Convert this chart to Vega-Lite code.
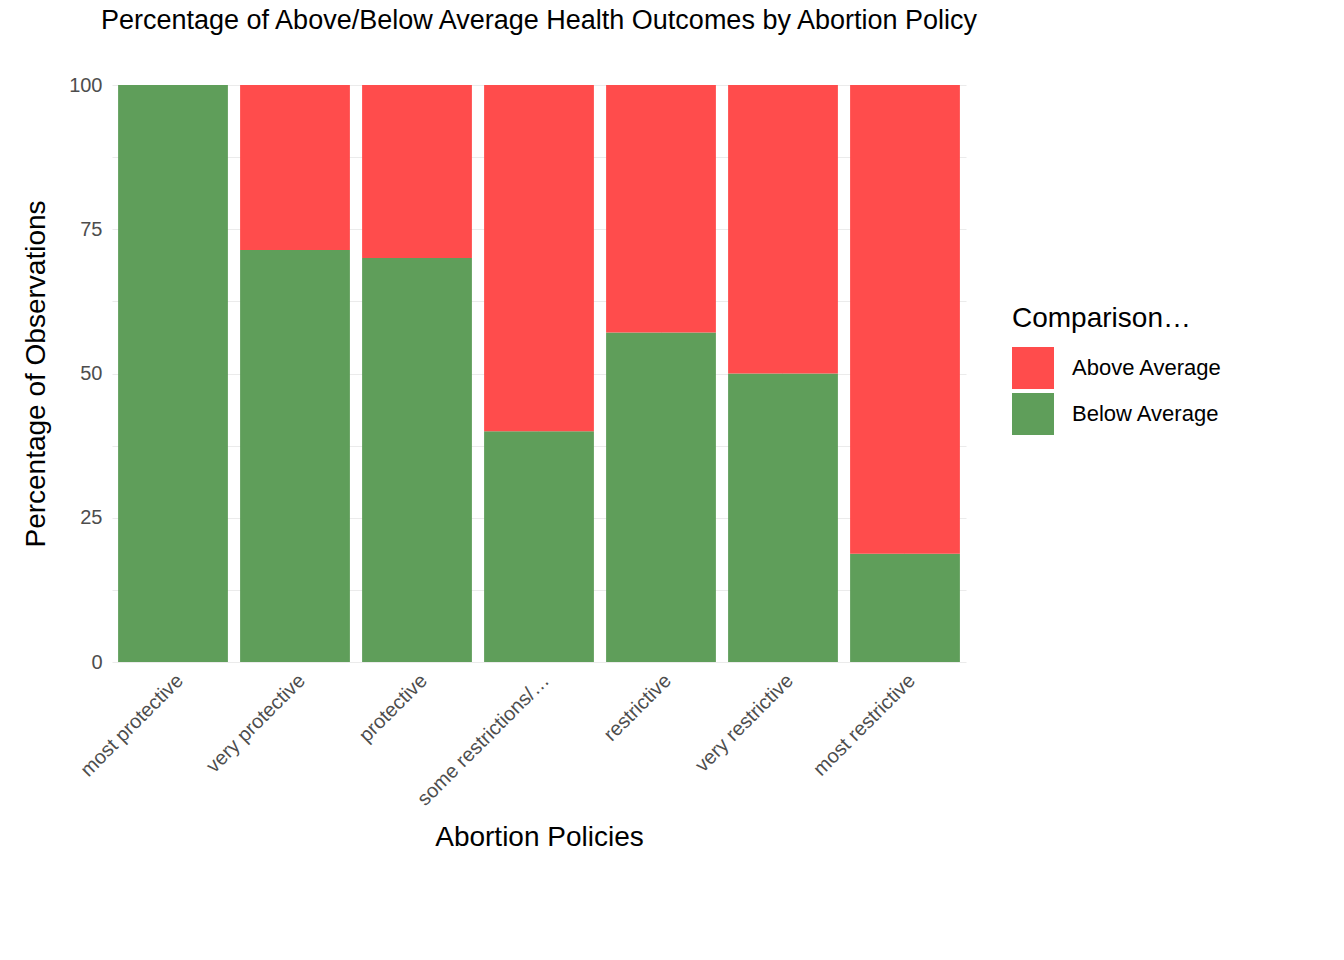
{
  "$schema": "https://vega.github.io/schema/vega-lite/v6.json",
  "width": 854,
  "height": 577,
  "autosize": {"type": "none"},
  "padding": {"left": 112, "top": 85, "right": 378, "bottom": 298},
  "background": "white",
  "config": {"font": "Liberation Sans", "view": {"stroke": null}},
  "title": {"text": "Percentage of Above/Below Average Health Outcomes by Abortion Policy", "fontSize": 27, "fontWeight": "normal", "color": "black", "anchor": "middle", "offset": 40},
  "data": {"values": [
    {"policy": "most protective", "Comparison": "Below Average", "pct": 100},
    {"policy": "most protective", "Comparison": "Above Average", "pct": 0},
    {"policy": "very protective", "Comparison": "Below Average", "pct": 71.4},
    {"policy": "very protective", "Comparison": "Above Average", "pct": 28.6},
    {"policy": "protective", "Comparison": "Below Average", "pct": 70},
    {"policy": "protective", "Comparison": "Above Average", "pct": 30},
    {"policy": "some restrictions/protections", "Comparison": "Below Average", "pct": 40},
    {"policy": "some restrictions/protections", "Comparison": "Above Average", "pct": 60},
    {"policy": "restrictive", "Comparison": "Below Average", "pct": 57.1},
    {"policy": "restrictive", "Comparison": "Above Average", "pct": 42.9},
    {"policy": "very restrictive", "Comparison": "Below Average", "pct": 50},
    {"policy": "very restrictive", "Comparison": "Above Average", "pct": 50},
    {"policy": "most restrictive", "Comparison": "Below Average", "pct": 18.75},
    {"policy": "most restrictive", "Comparison": "Above Average", "pct": 81.25}
  ]},
  "mark": {"type": "bar"},
  "encoding": {
    "x": {
      "field": "policy", "type": "nominal", "sort": null,
      "scale": {"paddingInner": 0.1, "paddingOuter": 0.05},
      "axis": {"title": "Abortion Policies", "titleFontSize": 28, "titleFontWeight": "normal", "titleColor": "black", "titlePadding": 14,
        "labelAngle": -45, "labelFontSize": 20, "labelColor": "#4d4d4d", "ticks": false, "domain": false,
        "grid": true, "gridColor": "#ebebeb", "bandPosition": 0.5, "labelPadding": 8}
    },
    "y": {
      "field": "pct", "type": "quantitative", "stack": "zero",
      "scale": {"domain": [0, 100], "nice": false},
      "axis": {"title": "Percentage of Observations", "titleFontSize": 28, "titleFontWeight": "normal", "titleColor": "black", "titlePadding": 18,
        "values": [0, 12.5, 25, 37.5, 50, 62.5, 75, 87.5, 100],
        "labelExpr": "datum.value % 25 == 0 ? datum.label : ''",
        "labelFontSize": 20, "labelColor": "#4d4d4d", "ticks": false, "domain": false,
        "grid": true, "gridColor": "#ebebeb", "labelPadding": 10}
    },
    "color": {
      "field": "Comparison", "type": "nominal",
      "scale": {"domain": ["Above Average", "Below Average"], "range": ["#ff4c4c", "#5f9e5a"]},
      "legend": {"title": "Comparison to Average", "orient": "none", "legendX": 900, "legendY": 220,
        "titleFontSize": 28, "titleFontWeight": "normal", "titleColor": "black", "titlePadding": 14,
        "labelFontSize": 22, "labelColor": "black", "symbolType": "square", "symbolSize": 1764,
        "symbolStrokeWidth": 0, "symbolOpacity": 1, "labelOffset": 18, "rowPadding": 4}
    },
    "order": {"field": "Comparison", "sort": "descending"}
  }
}
